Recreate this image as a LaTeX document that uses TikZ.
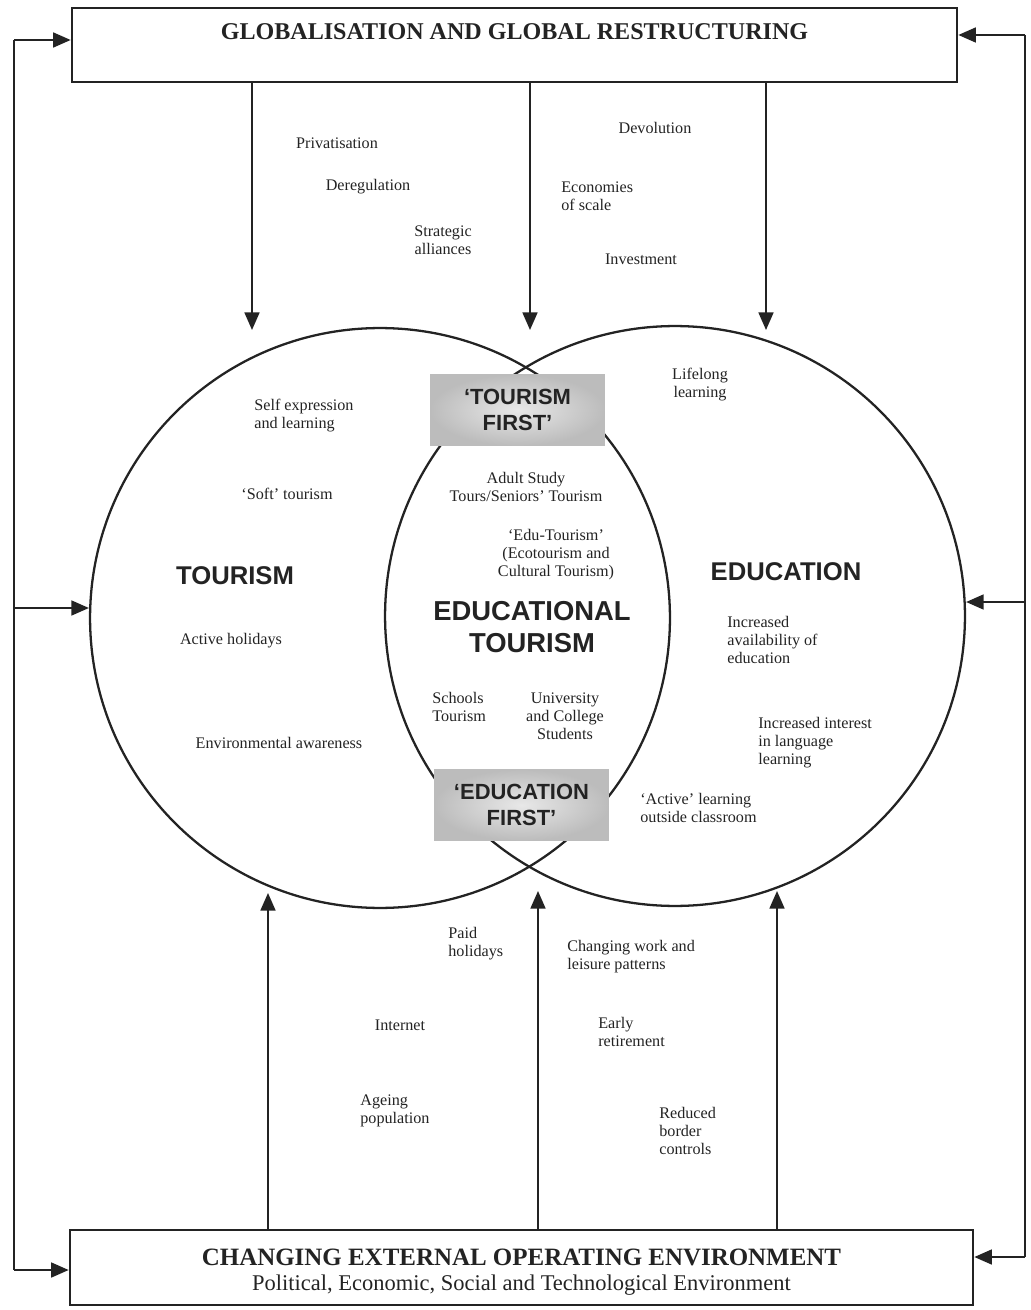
\documentclass[tikz,border=0pt]{standalone}
\usepackage{fontspec}
\setmainfont{Liberation Serif}
\setsansfont{Liberation Sans}
\usetikzlibrary{positioning,arrows.meta}
\definecolor{lineCol}{RGB}{35,35,35}
\definecolor{firstLight}{RGB}{232,232,232}
\definecolor{firstDark}{RGB}{188,188,188}

\begin{document}
\begin{tikzpicture}[x=0.02cm, y=-0.02cm,
  lbl/.style={font=\fontsize{9.2}{10.3}\selectfont, align=center, inner sep=0, text=lineCol},
  lbll/.style={lbl, align=left, anchor=west},
  big/.style={font=\sffamily\bfseries\fontsize{14.6}{18.7}\selectfont, align=center, inner sep=0, text=lineCol},
  frame/.style={rectangle, draw=lineCol, line width=1.6pt, inner sep=0, align=center, text=lineCol},
  ring/.style={circle, draw=lineCol, line width=1.3pt, inner sep=0, minimum size=11.6cm},
  firstbox/.style={rectangle, inner sep=0, minimum width=3.5cm, minimum height=1.42cm, align=center,
    shading=radial, inner color=firstLight, outer color=firstDark,
    font=\sffamily\bfseries\fontsize{12.5}{14.6}\selectfont, text=lineCol},
  arr/.style={-{Triangle[length=10pt, width=8.5pt]}, line width=1.1pt, lineCol},
  bus/.style={line width=1.1pt, lineCol}]
  \useasboundingbox (0,0) rectangle (1030,1310);

  % the two outer boxes
  \node[frame, minimum width=17.7cm, text height=0.64cm, text depth=0.84cm,
    font=\bfseries\fontsize{13.7}{16}\selectfont] (glob) at (514.5,45)
    {GLOBALISATION AND GLOBAL RESTRUCTURING};
  \node[frame, minimum width=18.06cm, text height=1.2cm, text depth=0.3cm,
    font=\bfseries\fontsize{14.2}{14.2}\selectfont] (env) at (521.5,1267.5)
    {CHANGING EXTERNAL OPERATING ENVIRONMENT\\
     {\mdseries\fontsize{12.8}{14.2}\selectfont Political, Economic, Social and Technological Environment}};

  % overlapping circles
  \node[ring] (tour) at (380,618) {};
  \node[ring] (edu)  at (675,616) {};

  \node[firstbox] (tfirst) at (517.5,410) {‘TOURISM\\FIRST’};
  \node[firstbox] (efirst) at (521.5,805) {‘EDUCATION\\FIRST’};

  % forces from above
  \node[lbl] (priv)  at (337,143) {Privatisation};
  \node[lbl] (dereg) at (368,187) {Deregulation};
  \node[lbl] (alli)  at (443,240) {Strategic\\alliances};
  \node[lbl] (devol) at (655,128) {Devolution};
  \node[lbll] (scale) at (561,196) {Economies\\of scale};
  \node[lbl] (invest) at (641,259) {Investment};

  % tourism side
  \node[lbll] (selfexp) at (254,416) {Self expression\\and learning};
  \node[lbl] (soft)   at (287,494) {‘Soft’ tourism};
  \node[big] (tourlbl) at (235,576) {TOURISM};
  \node[lbl] (active) at (231,641) {Active holidays};
  \node[lbl] (envaw)  at (279,743) {Environmental awareness};

  % overlap
  \node[lbl] (adult)   at (526,487) {Adult Study\\Tours/Seniors’ Tourism};
  \node[lbl] (edutour) at (556,555) {‘Edu-Tourism’\\(Ecotourism and\\Cultural Tourism)};
  \node[big, font=\sffamily\bfseries\fontsize{15.6}{18.7}\selectfont] (edtour) at (532,627)
    {EDUCATIONAL\\TOURISM};
  \node[lbll] (schools) at (432,707) {Schools\\Tourism};
  \node[lbl] (univ)    at (565,716) {University\\and College\\Students};

  % education side
  \node[lbl] (lifelong) at (700,385) {Lifelong\\learning};
  \node[big] (edulbl)  at (786,572) {EDUCATION};
  \node[lbll] (avail)  at (727,640) {Increased\\availability of\\education};
  \node[lbll] (lang)   at (758,743) {Increased interest\\in language\\learning};
  \node[lbll] (activel) at (640,808) {‘Active’ learning\\outside classroom};

  % forces from below
  \node[lbll] (paid)     at (448,944) {Paid\\holidays};
  \node[lbll] (changing) at (567,957) {Changing work and\\leisure patterns};
  \node[lbl] (internet)  at (400,1025) {Internet};
  \node[lbll] (early)    at (598,1032) {Early\\retirement};
  \node[lbll] (ageing)   at (360,1111) {Ageing\\population};
  \node[lbll] (border)   at (659,1131) {Reduced\\border\\controls};

  % arrow ends near the circles
  \coordinate (t1) at (252,330);
  \coordinate (t2) at (530,330);
  \coordinate (t3) at (766,330);
  \coordinate (b1) at (268,893);
  \coordinate (b2) at (538,891);
  \coordinate (b3) at (777,891);
  \draw[arr] (glob.south -| t1) -- (t1);
  \draw[arr] (glob.south -| t2) -- (t2);
  \draw[arr] (glob.south -| t3) -- (t3);
  \draw[arr] (env.north -| b1) -- (b1);
  \draw[arr] (env.north -| b2) -- (b2);
  \draw[arr] (env.north -| b3) -- (b3);

  % feedback lines on both sides
  \coordinate (busLT) at (14,40);
  \coordinate (busLM) at (14,608);
  \coordinate (busLB) at (14,1270);
  \coordinate (busRT) at (1025,35);
  \coordinate (busRM) at (1025,602);
  \coordinate (busRB) at (1025,1257);
  \draw[bus] (busLT) -- (busLB);
  \draw[bus] (busRT) -- (busRB);
  \draw[arr] (busLT) -- (busLT -| glob.west);
  \draw[arr] (busLM) -- (busLM -| tour.west);
  \draw[arr] (busLB) -- (busLB -| env.west);
  \draw[arr] (busRT) -- (busRT -| glob.east);
  \draw[arr] (busRM) -- (busRM -| edu.east);
  \draw[arr] (busRB) -- (busRB -| env.east);
\end{tikzpicture}
\end{document}
